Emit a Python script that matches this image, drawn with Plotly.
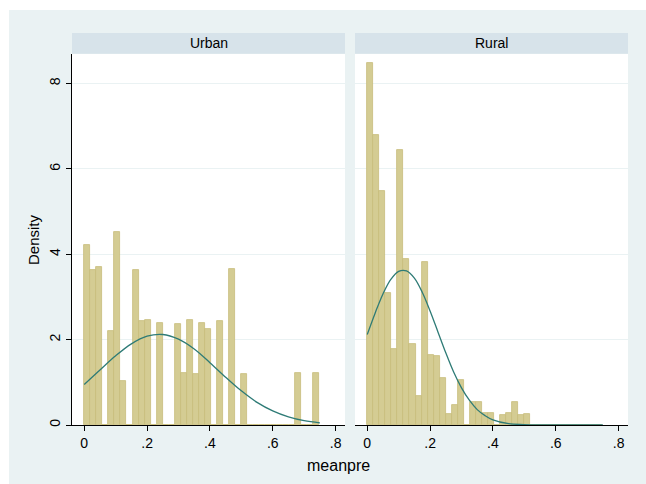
import plotly.graph_objects as go
from plotly.subplots import make_subplots

# ---- data ----
bin_width = 0.0192
n_bins = 39
bin_centers = [bin_width * (i + 0.5) for i in range(n_bins)]

urban_density = [4.21, 3.62, 3.69, 0, 2.20, 4.51, 1.02, 0, 3.63, 2.43,
                 2.46, 0, 2.38, 0, 0, 2.36, 1.21, 2.46, 1.20, 2.38,
                 2.25, 0, 2.43, 0, 3.65, 0, 1.20, 0, 0, 0,
                 0, 0, 0, 0, 0, 1.21, 0, 0, 1.21]
rural_density = [8.48, 6.80, 5.47, 3.10, 1.77, 6.45, 3.88, 1.89, 0.69, 3.81,
                 1.64, 1.61, 1.09, 0.25, 0.48, 1.05, 0, 0.53, 0.53, 0.27,
                 0.27, 0, 0.24, 0.27, 0.53, 0.24, 0.26, 0, 0, 0,
                 0, 0, 0, 0, 0, 0, 0, 0, 0]

urban_curve_x = [0, 0.05, 0.10, 0.15, 0.20, 0.25, 0.30, 0.35, 0.40, 0.45,
                 0.50, 0.55, 0.60, 0.65, 0.70, 0.75]
urban_curve_y = [0.95, 1.29, 1.62, 1.90, 2.08, 2.12, 2.01, 1.78, 1.46, 1.12,
                 0.80, 0.53, 0.33, 0.19, 0.10, 0.05]
rural_curve_x = [0, 0.025, 0.05, 0.075, 0.10, 0.125, 0.15, 0.175, 0.20, 0.225,
                 0.25, 0.275, 0.30, 0.325, 0.35, 0.375, 0.40, 0.45, 0.50,
                 0.55, 0.60, 0.65, 0.70, 0.75]
rural_curve_y = [2.12, 2.62, 3.07, 3.41, 3.60, 3.61, 3.44, 3.11, 2.67, 2.18,
                 1.69, 1.24, 0.87, 0.58, 0.36, 0.22, 0.12, 0.03, 0.01,
                 0.002, 0.0, 0.0, 0.0, 0.0]

panels = ["Urban", "Rural"]
x_tickvals = [0, 0.2, 0.4, 0.6, 0.8]
x_ticktext = ["0", ".2", ".4", ".6", ".8"]
y_tickvals = [0, 2, 4, 6, 8]
y_ticktext = ["0", "2", "4", "6", "8"]

# ---- styles ----
BG = "#eaf2f3"
STRIP = "#d7e3ea"
BAR_FILL = "#d4cc93"
BAR_LINE = "#c6bd7b"
CURVE = "#2e7b76"
FONT = "Liberation Sans, Arial, sans-serif"

W, H = 646, 484
L, R, T, B = 72, 18, 54, 59
pw = W - L - R
ph = H - T - B


def px2x(px):
    return (px - L) / pw


def py2y(py):
    return (H - B - py) / ph


fig = make_subplots(rows=1, cols=2, shared_yaxes=True, horizontal_spacing=10 / pw)

for col, (dens, cx, cy) in enumerate(
        [(urban_density, urban_curve_x, urban_curve_y),
         (rural_density, rural_curve_x, rural_curve_y)], start=1):
    fig.add_trace(go.Bar(x=bin_centers, y=dens, width=bin_width,
                         marker=dict(color=BAR_FILL, line=dict(color=BAR_LINE, width=0.8)),
                         showlegend=False, hoverinfo="skip"), row=1, col=col)
    fig.add_trace(go.Scatter(x=cx, y=cy, mode="lines",
                             line=dict(color=CURVE, width=1.3, shape="spline"),
                             showlegend=False, hoverinfo="skip"), row=1, col=col)

xaxis_common = dict(range=[-0.039, 0.83], tickvals=x_tickvals, ticktext=x_ticktext,
                    showline=True, linecolor="black", linewidth=1.2,
                    ticks="outside", ticklen=5, tickcolor="black", tickwidth=1,
                    showgrid=False, zeroline=False,
                    tickfont=dict(family=FONT, size=14, color="black"))
fig.update_xaxes(**xaxis_common)
fig.update_yaxes(range=[0, 8.69], tickvals=y_tickvals, ticktext=y_ticktext,
                 showgrid=True, gridcolor=BG, gridwidth=1, zeroline=False)
fig.update_yaxes(showline=True, linecolor="black", linewidth=1.2,
                 ticks="outside", ticklen=5, tickcolor="black", tickwidth=1,
                 tickangle=-90,
                 tickfont=dict(family=FONT, size=14, color="black"), row=1, col=1)
fig.update_yaxes(showline=False, ticks="", showticklabels=False, row=1, col=2)

shapes = [
    # white outer margins (top and left)
    dict(type="rect", xref="paper", yref="paper", x0=px2x(-5), x1=px2x(W + 5),
         y0=py2y(10), y1=py2y(-5), fillcolor="white", line=dict(width=0), layer="below"),
    dict(type="rect", xref="paper", yref="paper", x0=px2x(-5), x1=px2x(9),
         y0=py2y(H + 5), y1=py2y(-5), fillcolor="white", line=dict(width=0), layer="below"),
    # strips
    dict(type="rect", xref="paper", yref="paper", x0=px2x(72), x1=px2x(345),
         y0=py2y(53.7), y1=py2y(33), fillcolor=STRIP, line=dict(width=0)),
    dict(type="rect", xref="paper", yref="paper", x0=px2x(355), x1=px2x(628),
         y0=py2y(53.7), y1=py2y(33), fillcolor=STRIP, line=dict(width=0)),
]

annotations = [
    dict(text=panels[0], x=px2x((72 + 345) / 2), y=py2y(43.5), xref="paper", yref="paper",
         showarrow=False, font=dict(family=FONT, size=14, color="black"),
         xanchor="center", yanchor="middle"),
    dict(text=panels[1], x=px2x((355 + 628) / 2), y=py2y(43.5), xref="paper", yref="paper",
         showarrow=False, font=dict(family=FONT, size=14, color="black"),
         xanchor="center", yanchor="middle"),
    dict(text="meanpre", x=px2x(338), y=py2y(465), xref="paper", yref="paper",
         showarrow=False, font=dict(family=FONT, size=16, color="black"),
         xanchor="center", yanchor="middle"),
    dict(text="Density", x=px2x(33), y=py2y(240), xref="paper", yref="paper",
         showarrow=False, textangle=-90, font=dict(family=FONT, size=15, color="black"),
         xanchor="center", yanchor="middle"),
]

fig.update_layout(width=W, height=H, margin=dict(l=L, r=R, t=T, b=B),
                  paper_bgcolor=BG, plot_bgcolor="white", bargap=0,
                  shapes=shapes, annotations=annotations,
                  font=dict(family=FONT, color="black"))

fig.write_html("out.html")
